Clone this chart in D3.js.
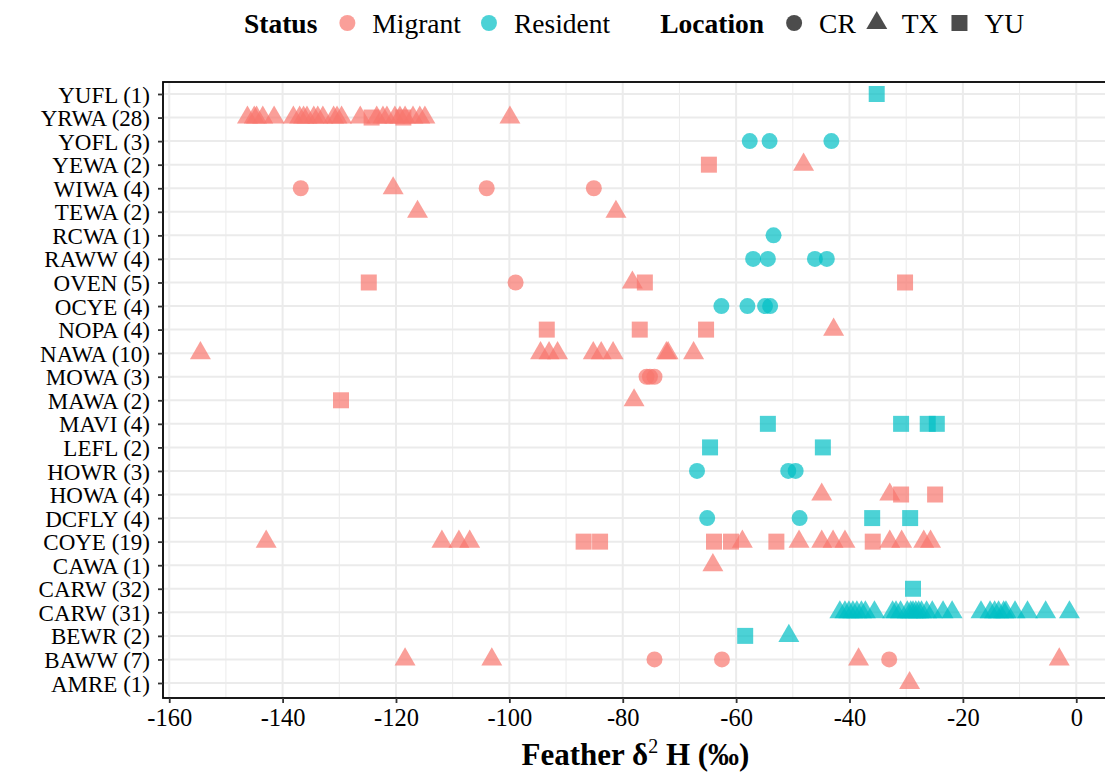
<!DOCTYPE html>
<html>
<head>
<meta charset="utf-8">
<script src="https://cdn.jsdelivr.net/npm/d3@7"></script>
<style>
  body { margin: 0; background: #fff; }
  svg { display: block; font-family: "Liberation Serif", "Times New Roman", serif; }
  .grid line { stroke: #ebebeb; }
  .axis text { fill: #000; }
</style>
</head>
<body>
<div id="chart"></div>
<script>
// species, top to bottom
var categories = ["YUFL (1)", "YRWA (28)", "YOFL (3)", "YEWA (2)", "WIWA (4)", "TEWA (2)",
  "RCWA (1)", "RAWW (4)", "OVEN (5)", "OCYE (4)", "NOPA (4)", "NAWA (10)", "MOWA (3)",
  "MAWA (2)", "MAVI (4)", "LEFL (2)", "HOWR (3)", "HOWA (4)", "DCFLY (4)", "COYE (19)",
  "CAWA (1)", "CARW (32)", "CARW (31)", "BEWR (2)", "BAWW (7)", "AMRE (1)"];

var categoryStatus = ["Resident", "Migrant", "Resident", "Migrant", "Migrant", "Migrant",
  "Resident", "Resident", "Migrant", "Resident", "Migrant", "Migrant", "Migrant",
  "Migrant", "Resident", "Resident", "Resident", "Migrant", "Resident", "Migrant",
  "Migrant", "Resident", "Resident", "Resident", "Migrant", "Migrant"];

// feather d2H per bird, one list per species
var featherH = [
  [-35.2],
  [-146.2, -145.0, -144.6, -143.5, -141.5, -138.1, -137.0, -136.3, -135.7, -134.5, -133.8,
   -132.9, -131.0, -130.4, -129.6, -126.3, -123.4, -122.3, -121.6, -120.2, -119.3, -118.4,
   -117.0, -115.8, -114.9, -99.9, -124.3, -118.7],
  [-57.6, -54.1, -43.2],
  [-64.8, -48.1],
  [-136.8, -120.5, -104.0, -85.1],
  [-116.2, -81.2],
  [-53.4],
  [-57.0, -54.4, -46.1, -44.0],
  [-124.8, -98.9, -78.3, -76.1, -30.2],
  [-62.6, -58.0, -54.9, -54.0],
  [-93.4, -77.0, -65.3, -42.8],
  [-154.5, -94.5, -93.0, -91.5, -85.2, -83.8, -81.7, -72.3, -72.0, -67.5],
  [-75.8, -75.2, -74.4],
  [-129.7, -78.0],
  [-54.4, -30.9, -26.2, -24.6],
  [-64.6, -44.7],
  [-66.9, -50.8, -49.5],
  [-44.9, -32.9, -30.9, -24.9],
  [-65.1, -48.8, -36.0, -29.3],
  [-142.9, -111.9, -108.9, -107.0, -86.9, -84.0, -63.9, -60.9, -58.9, -52.9, -48.9, -44.9,
   -42.9, -40.8, -35.9, -32.9, -30.8, -26.9, -25.7],
  [-64.1],
  [-28.8],
  [-41.7, -40.8, -40.1, -39.4, -38.7, -37.9, -37.2, -35.6, -32.4, -31.8, -31.0, -29.8, -29.2,
   -28.8, -28.3, -27.8, -27.3, -26.4, -25.4, -23.5, -21.9, -16.8, -15.2, -14.4, -13.7, -12.8,
   -12.4, -10.8, -8.6, -5.4, -1.2],
  [-58.4, -50.7],
  [-118.4, -103.1, -74.4, -62.5, -38.4, -33.0, -3.0],
  [-29.4]
];

// sampling location per bird, same order as featherH
var locations = [
  ["YU"],
  ["TX", "TX", "TX", "TX", "TX", "TX", "TX", "TX", "TX", "TX", "TX", "TX", "TX", "TX", "TX",
   "TX", "TX", "TX", "TX", "TX", "TX", "TX", "TX", "TX", "TX", "TX", "YU", "YU"],
  ["CR", "CR", "CR"],
  ["YU", "TX"],
  ["CR", "TX", "CR", "CR"],
  ["TX", "TX"],
  ["CR"],
  ["CR", "CR", "CR", "CR"],
  ["YU", "CR", "TX", "YU", "YU"],
  ["CR", "CR", "CR", "CR"],
  ["YU", "YU", "YU", "TX"],
  ["TX", "TX", "TX", "TX", "TX", "TX", "TX", "TX", "TX", "TX"],
  ["CR", "CR", "CR"],
  ["YU", "TX"],
  ["YU", "YU", "YU", "YU"],
  ["YU", "YU"],
  ["CR", "CR", "CR"],
  ["TX", "TX", "YU", "YU"],
  ["CR", "CR", "YU", "YU"],
  ["TX", "TX", "TX", "TX", "YU", "YU", "YU", "YU", "TX", "YU", "TX", "TX", "TX", "TX", "YU",
   "TX", "TX", "TX", "TX"],
  ["TX"],
  ["YU"],
  ["TX", "TX", "TX", "TX", "TX", "TX", "TX", "TX", "TX", "TX", "TX", "TX", "TX", "TX", "TX",
   "TX", "TX", "TX", "TX", "TX", "TX", "TX", "TX", "TX", "TX", "TX", "TX", "TX", "TX", "TX", "TX"],
  ["YU", "TX"],
  ["TX", "TX", "CR", "CR", "TX", "CR", "TX"],
  ["TX"]
];

var xTicks = [-160, -140, -120, -100, -80, -60, -40, -20, 0];
var xMinorTicks = [-150, -130, -110, -90, -70, -50, -30, -10];

var statusNames = ["Migrant", "Resident"];
var statusColors = ["#F8766D", "#00BFC4"];
var locationNames = ["CR", "TX", "YU"];
var locationShapes = [d3.symbolCircle, d3.symbolTriangle, d3.symbolSquare];
var shapeSizes = [201, 190, 256];

var width = 1105, height = 774;
var panel = {left: 163, right: 1108, top: 82, bottom: 698};

var svg = d3.select("#chart").append("svg")
    .attr("width", width)
    .attr("height", height);

// scales
var x = d3.scaleLinear()
    .domain([-161.1, 5.6])
    .range([panel.left, panel.right]);

var y = d3.scalePoint()
    .domain(d3.range(categories.length))
    .range([94, 683]);

var color = d3.scaleOrdinal().domain(statusNames).range(statusColors);
var shape = d3.scaleOrdinal().domain(locationNames).range(locationShapes);
var shapeSize = d3.scaleOrdinal().domain(locationNames).range(shapeSizes);

// flatten to one row per bird
var points = [];
featherH.forEach(function(vals, i) {
    vals.forEach(function(v, j) {
        points.push({row: i, value: v, status: categoryStatus[i], location: locations[i][j]});
    });
});

// grid
var grid = svg.append("g").attr("class", "grid");

grid.selectAll("line.minor")
    .data(xMinorTicks)
    .enter().append("line")
    .attr("class", "minor")
    .attr("x1", function(d) { return x(d); })
    .attr("x2", function(d) { return x(d); })
    .attr("y1", panel.top)
    .attr("y2", panel.bottom)
    .attr("stroke-width", 1);

grid.selectAll("line.vmajor")
    .data(xTicks)
    .enter().append("line")
    .attr("class", "vmajor")
    .attr("x1", function(d) { return x(d); })
    .attr("x2", function(d) { return x(d); })
    .attr("y1", panel.top)
    .attr("y2", panel.bottom)
    .attr("stroke-width", 2);

grid.selectAll("line.hmajor")
    .data(y.domain())
    .enter().append("line")
    .attr("class", "hmajor")
    .attr("x1", panel.left)
    .attr("x2", panel.right)
    .attr("y1", function(d) { return y(d); })
    .attr("y2", function(d) { return y(d); })
    .attr("stroke-width", 2);

// points
svg.append("g")
    .selectAll("path")
    .data(points)
    .enter().append("path")
    .attr("transform", function(d) {
        return "translate(" + x(d.value) + "," + y(d.row) + ")";
    })
    .attr("d", function(d) {
        return d3.symbol().type(shape(d.location)).size(shapeSize(d.location))();
    })
    .attr("fill", function(d) { return color(d.status); })
    .attr("fill-opacity", 0.7);

// panel border
svg.append("rect")
    .attr("x", panel.left)
    .attr("y", panel.top)
    .attr("width", panel.right - panel.left)
    .attr("height", panel.bottom - panel.top)
    .attr("fill", "none")
    .attr("stroke", "#000")
    .attr("stroke-width", 1.8);

// axes
var xAxis = d3.axisBottom(x)
    .tickValues(xTicks)
    .tickFormat(function(d) { return String(d); })
    .tickSize(5)
    .tickPadding(6);

var yAxis = d3.axisLeft(y)
    .tickFormat(function(i) { return categories[i]; })
    .tickSize(5)
    .tickPadding(8);

var xAxisGroup = svg.append("g")
    .attr("class", "x-axis axis")
    .attr("transform", "translate(0," + panel.bottom + ")")
    .call(xAxis);

var yAxisGroup = svg.append("g")
    .attr("class", "y-axis axis")
    .attr("transform", "translate(" + panel.left + ",0)")
    .call(yAxis);

svg.selectAll(".axis .domain").remove();
svg.selectAll(".axis .tick line").attr("stroke", "#333").attr("stroke-width", 1.8);
xAxisGroup.selectAll("text")
    .attr("font-family", "Liberation Serif")
    .attr("font-size", 24.5);
yAxisGroup.selectAll("text")
    .attr("font-family", "Liberation Serif")
    .attr("font-size", 23)
    .attr("dy", "0.35em");

// x axis title
var title = svg.append("text")
    .attr("x", (panel.left + panel.right) / 2)
    .attr("y", 765)
    .attr("text-anchor", "middle")
    .attr("font-size", 31)
    .attr("font-weight", "bold");
title.append("tspan").text("Feather δ");
title.append("tspan").attr("font-size", 20).attr("dy", -12).attr("font-weight", "normal").text("2");
title.append("tspan").attr("dy", 12).text(" H (‰)");

// legend, laid out left to right
var legend = svg.append("g").attr("class", "legend");
var lx = 244, ly = 23;

function legendTitle(t) {
    var el = legend.append("text")
        .attr("x", lx).attr("y", ly).attr("dy", "0.35em")
        .attr("font-size", 27.5).attr("font-weight", "bold")
        .text(t);
    lx += el.node().getComputedTextLength() + 30;
}

function legendItem(label, type, size, fill, gap) {
    legend.append("path")
        .attr("transform", "translate(" + lx + "," + ly + ")")
        .attr("d", d3.symbol().type(type).size(size)())
        .attr("fill", fill)
        .attr("fill-opacity", 0.7);
    lx += 25;
    var el = legend.append("text")
        .attr("x", lx).attr("y", ly).attr("dy", "0.35em")
        .attr("font-size", 27.5)
        .text(label);
    lx += el.node().getComputedTextLength() + gap;
}

legendTitle("Status");
statusNames.forEach(function(s) {
    legendItem(s, d3.symbolCircle, 201, color(s), 28);
});
lx += 22;
legendTitle("Location");
locationNames.forEach(function(l) {
    legendItem(l, shape(l), shapeSize(l), "#000", 21);
});
</script>
</body>
</html>
